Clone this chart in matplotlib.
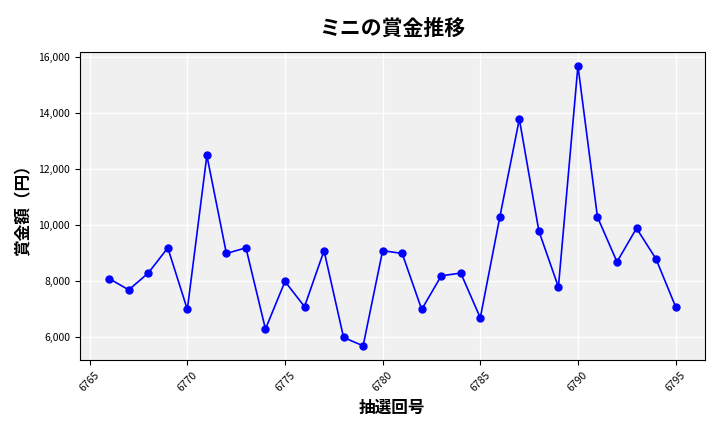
import matplotlib
matplotlib.use("Agg")
import matplotlib.pyplot as plt
from matplotlib.ticker import FuncFormatter

plt.rcParams['font.family'] = ['Noto Sans CJK JP', 'DejaVu Sans']

draws = list(range(6766, 6796))
prizes = [8100, 7700, 8300, 9200, 7000, 12500, 9000, 9200, 6300, 8000,
          7100, 9100, 6000, 5700, 9100, 9000, 7000, 8200, 8300, 6700,
          10300, 13800, 9800, 7800, 15700, 10300, 8700, 9900, 8800, 7100]

fig = plt.figure(figsize=(7.2, 4.32), dpi=100)
ax = fig.add_axes([0.111, 0.167, 0.868, 0.713])
ax.set_facecolor('#f0f0f0')
ax.grid(True, color='white', linewidth=1)
ax.set_axisbelow(True)
ax.plot(draws, prizes, color='blue', marker='o', markersize=5, linewidth=1.2)
ax.set_title('ミニの賞金推移', fontsize=15, fontweight='bold', pad=12)
ax.set_xlabel('抽選回号', fontsize=12, fontweight='bold')
ax.set_ylabel('賞金額（円）', fontsize=12, fontweight='bold')
ax.yaxis.set_major_formatter(FuncFormatter(lambda v, p: f'{int(v):,}'))
ax.set_xticks(range(6765, 6800, 5))
ax.set_yticks(range(6000, 16001, 2000))
ax.tick_params(axis='x', labelrotation=45, labelsize=7.5)
ax.tick_params(axis='y', labelsize=7.5)
ax.set_xlim(6764.5, 6796.5)
ax.set_ylim(5200, 16200)
fig.savefig('out.png')
